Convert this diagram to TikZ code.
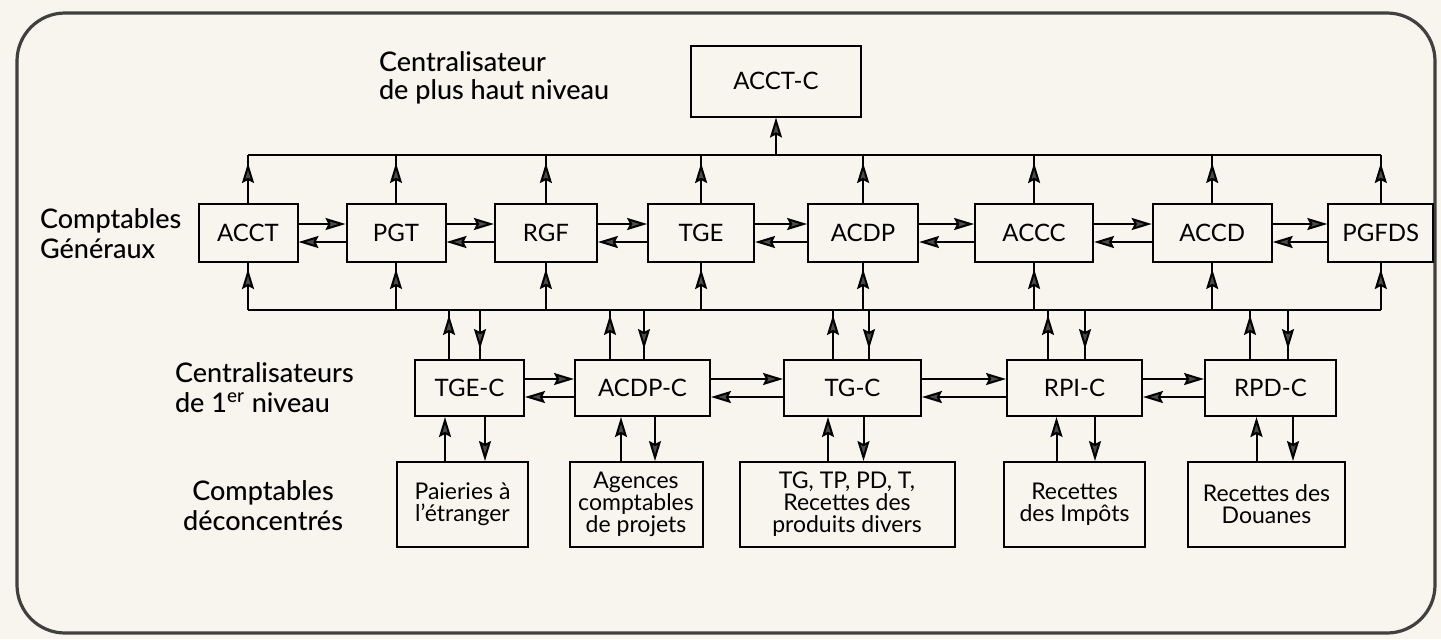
\documentclass[tikz,border=0pt]{standalone}
\usepackage{fontspec}
\setmainfont{Lato}
\newfontfamily\labfont{Lato Medium}
\usetikzlibrary{arrows.meta,positioning,decorations.markings}
\definecolor{paper}{RGB}{248,245,238}

\begin{document}
\begin{tikzpicture}[x=0.5pt, y=-0.5pt,
 >={Stealth[length=10pt, width=6pt, inset=1.5pt, fill=black!70]},
 box/.style={draw, line width=1pt, inner sep=0pt, align=center, minimum height=29pt, font=\fontsize{12}{14}\selectfont},
 midbox/.style={box, minimum height=28pt},
 lowbox/.style={box, minimum height=42.5pt, font=\fontsize{11.5}{11}\selectfont},
 lab/.style={align=left, font=\labfont\fontsize{13.5}{15}\selectfont},
 line/.style={->, line width=1pt},
 midtip/.style={line width=1pt, postaction={decorate}, decoration={markings, mark=at position -#1 with {\arrow{>}}}}]
\useasboundingbox (0,0) rectangle (1441,639);
\fill[paper] (0,0) rectangle (1441,639);
\draw[line width=1.6pt, black!75, rounded corners=24pt] (17,13) rectangle (1435,633);

% top level
\node[box, minimum width=85pt, minimum height=35.5pt] (acctc) at (776,81) {ACCT-C};
\node[lab, anchor=west, font=\labfont\fontsize{13.5}{14}\selectfont] (hautlab) at (372,78) {Centralisateur\\de plus haut niveau};

% comptables generaux
\node[box, minimum width=49.5pt] (acct) at (248,233) {ACCT};
\node[box, minimum width=49.5pt, right=23.5pt of acct] (pgt) {PGT};
\node[box, minimum width=51pt, right=23.7pt of pgt] (rgf) {RGF};
\node[box, minimum width=53pt, right=24.6pt of rgf] (tge) {TGE};
\node[box, minimum width=55pt, right=26pt of tge] (acdp) {ACDP};
\node[box, minimum width=59pt, right=27.5pt of acdp] (accc) {ACCC};
\node[box, minimum width=59.5pt, right=28.8pt of accc] (accd) {ACCD};
\node[box, minimum width=52.5pt, right=27.3pt of accd] (pgfds) {PGFDS};
\node[lab, anchor=west] (genlab) at (33,234) {Comptables\\Généraux};

% centralisateurs de 1er niveau
\node[midbox, minimum width=54.5pt] (tgec) at (469.5,388) {TGE-C};
\node[midbox, minimum width=67.5pt, right=24.5pt of tgec] (acdpc) {ACDP-C};
\node[midbox, minimum width=68.5pt, right=36pt of acdpc] (tgc) {TG-C};
\node[midbox, minimum width=67.5pt, right=42pt of tgc] (rpic) {RPI-C};
\node[midbox, minimum width=65.5pt, right=30.5pt of rpic] (rpdc) {RPD-C};
\node[lab, anchor=west] (cenlab) at (168,388) {Centralisateurs\\de 1\textsuperscript{er} niveau};

% comptables deconcentres
\node[lowbox, minimum width=65.5pt, below=22pt of tgec, xshift=-3.5pt] (paie) {Paieries à\\l’étranger};
\node[lowbox, minimum width=66.5pt, below=22pt of acdpc, xshift=-3.25pt] (agen) {Agences\\comptables\\de projets};
\node[lowbox, minimum width=107.5pt, below=22pt of tgc, xshift=-2.75pt] (tgtp) {TG, TP, PD, T,\\Recettes des\\produits divers};
\node[lowbox, minimum width=70.5pt, below=22pt of rpic] (rimp) {Recettes\\des Impôts};
\node[lowbox, minimum width=78.5pt, below=22pt of rpdc, xshift=-2pt] (rdou) {Recettes des\\Douanes};
\node[lab, align=center] (decolab) at (263,506) {Comptables\\déconcentrés};

% buses
\coordinate (busA) at (0,155);
\coordinate (busB) at (0,310);
\draw[line width=1pt] (acct.north |- busA) -- (pgfds.north |- busA);
\draw[line width=1pt] (acct.south |- busB) -- (pgfds.south |- busB);
\draw[line] (acctc.south |- busA) -- (acctc.south);

\foreach \n in {acct,pgt,rgf,tge,acdp,accc,accd,pgfds}{
  \draw[midtip=4pt] (\n.north) -- (\n.north |- busA);
  \draw[midtip=3pt] (\n.south |- busB) -- (\n.south);
}
\foreach \a/\b in {acct/pgt,pgt/rgf,rgf/tge,tge/acdp,acdp/accc,accc/accd,accd/pgfds,tgec/acdpc,acdpc/tgc,tgc/rpic,rpic/rpdc}{
  \draw[line] ([yshift=4.5pt]\a.east) -- ([yshift=4.5pt]\b.west);
  \draw[line] ([yshift=-4.5pt]\b.west) -- ([yshift=-4.5pt]\a.east);
}
\foreach \n/\b/\u/\d/\p/\q in {tgec/paie/-10.25/5.25/-12.25/7.75, acdpc/agen/-16.25/.75/-10.75/6.25,
  tgc/tgtp/-9.75/8.25/-12.25/5.5, rpic/rimp/-13.25/5.25/-9/10.25, rpdc/rdou/-10.25/8.75/-7/11.25}{
  \draw[midtip=2.5pt] ([xshift=\u pt]\n.north) -- ([xshift=\u pt]\n.north |- busB);
  \draw[midtip=5pt] ([xshift=\d pt]\n.north |- busB) -- ([xshift=\d pt]\n.north);
  \draw[line] ([xshift=\p pt]\n.south |- \b.north) -- ([xshift=\p pt]\n.south);
  \draw[line] ([xshift=\q pt]\n.south) -- ([xshift=\q pt]\n.south |- \b.north);
}
\end{tikzpicture}
\end{document}
